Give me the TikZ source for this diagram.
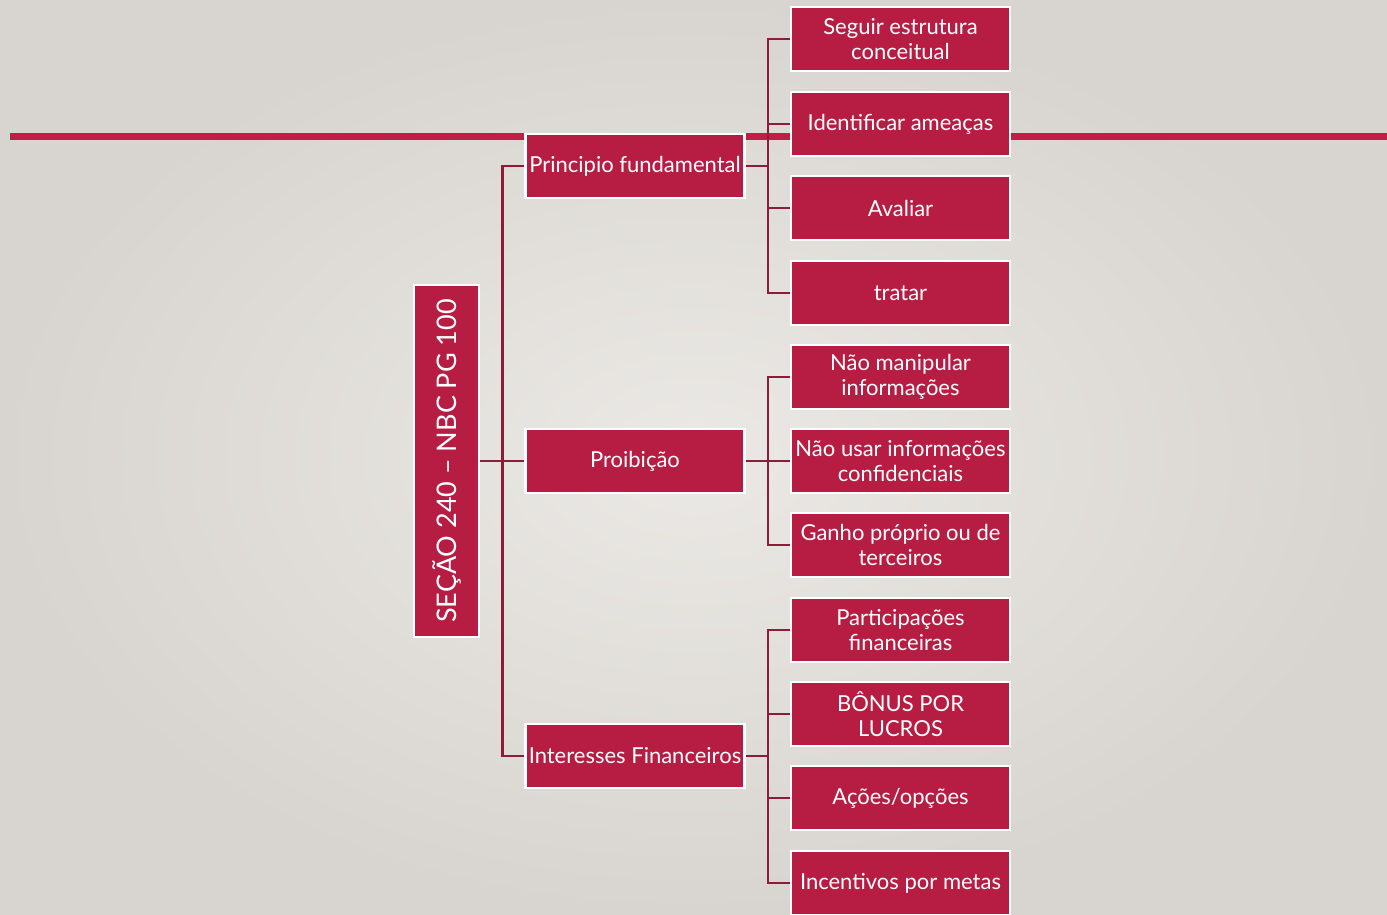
\documentclass[tikz,border=0pt]{standalone}
\usepackage{fontspec}
\setmainfont{Lato}
\usetikzlibrary{positioning,backgrounds}
\definecolor{crimson}{HTML}{B71D42}
\definecolor{linkred}{HTML}{8E1B37}
\definecolor{rulered}{HTML}{BD1F46}
\definecolor{bgin}{HTML}{EBE9E5}
\definecolor{bgout}{HTML}{D8D5D0}
\tikzset{
  box/.style={draw=white, line width=2.5pt, fill=crimson, text=white,
    font=\fontsize{22}{25.5}\selectfont, align=center, inner sep=1pt},
  leaf/.style={box, minimum width=219pt, minimum height=64pt},
  branch/.style={box, minimum width=219pt, minimum height=64pt},
  link/.style={draw=linkred, line width=2.5pt},
}
% elbow from a parent side to a child's west side
\newcommand{\elbow}[3][22pt]{
    \draw[link] (#2) -- ++(#1,0) |- (#3.west);
}

\begin{document}
\begin{tikzpicture}[x=1pt,y=-1pt]
\useasboundingbox (0,0) rectangle (1387,914);

% root
\node[box, rotate=90, minimum width=352pt, minimum height=65pt,
  font=\fontsize{27}{30}\selectfont] (root) at (446.5,461) {SEÇÃO 240 – NBC PG 100};

% branches
\node[branch] (principio) at (635,166) {Principio fundamental};
\node[branch] (proibicao) at (635,461) {Proibição};
\node[branch] (interesses) at (635,756) {Interesses Financeiros};

% leaves
\node[leaf] (seguir) at (900.5,39) {Seguir estrutura\\conceitual};
\node[leaf] (ameacas) at (900.5,124) {Identificar ameaças};
\node[leaf] (avaliar) at (900.5,208) {Avaliar};
\node[leaf] (tratar) at (900.5,293) {tratar};
\node[leaf] (manipular) at (900.5,377) {Não manipular\\informações};
\node[leaf] (confid) at (900.5,461) {Não usar informações\\confidenciais};
\node[leaf] (ganho) at (900.5,545) {Ganho próprio ou de\\terceiros};
\node[leaf] (particip) at (900.5,630) {Participações\\financeiras};
\node[leaf] (bonus) at (900.5,714) {BÔNUS POR\\LUCROS};
\node[leaf] (acoes) at (900.5,798) {Ações/opções};
\node[leaf] (metas) at (900.5,883) {Incentivos por metas};

% connectors and backdrop behind the boxes
\begin{scope}[on background layer]
\shade[inner color=bgin, outer color=bgout] (0,0) rectangle (1387,914);
\draw[rulered, line width=7pt] (10,136) -- (1387,136);
\elbow{root.south}{principio}
\elbow{root.south}{proibicao}
\elbow{root.south}{interesses}
\foreach \c in {seguir,ameacas,avaliar,tratar}
  {\elbow{principio.east}{\c}}
\foreach \c in {manipular,confid,ganho}
  {\elbow{proibicao.east}{\c}}
\foreach \c in {particip,bonus,acoes,metas}
  {\elbow{interesses.east}{\c}}
\end{scope}
\end{tikzpicture}
\end{document}
